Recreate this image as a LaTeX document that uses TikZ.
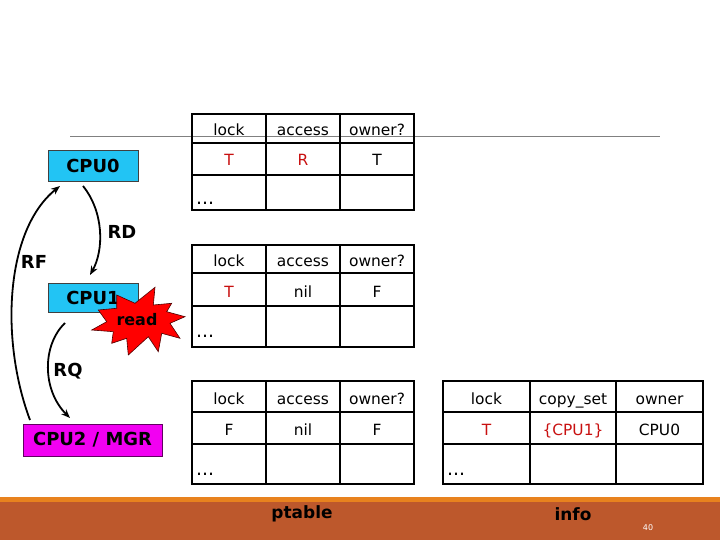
\documentclass[tikz,border=0pt]{standalone}
\usepackage{fontspec}
\setmainfont{DejaVu Sans}
\usetikzlibrary{arrows.meta}
\definecolor{cpublue}{HTML}{22C4F4}
\definecolor{mgrpink}{HTML}{F200F2}
\definecolor{tred}{HTML}{C81010}
\definecolor{barorange}{HTML}{E8821E}
\definecolor{barbrown}{HTML}{BD582C}
\tikzset{
  cell/.style={anchor=base,inner sep=0pt,font=\fontsize{15.5}{18}\selectfont},
  redcell/.style={cell,text=tred},
  dots/.style={anchor=base west,inner sep=0pt,font=\fontsize{19}{20}\selectfont},
  cpubox/.style={draw=black!75,line width=0.6bp,font=\fontsize{18}{20}\selectfont\bfseries,inner sep=0pt},
  lbl/.style={font=\fontsize{18}{20}\selectfont\bfseries,inner sep=0pt},
  conn/.style={line width=1.8bp,-{Stealth[length=9bp,width=7bp]}},
  tbl/.style={line width=1.7bp}
}
\begin{document}
\begin{tikzpicture}[x=1bp,y=-1bp]
\useasboundingbox (0,0) rectangle (720,540);
% title rule
\draw[gray,line width=0.8bp] (70,136) -- (660,136);
% footer
\fill[barbrown] (0,502) rectangle (720,540);
\fill[barorange] (0,497) rectangle (720,502);
\node[lbl,font=\fontsize{17}{19}\selectfont\bfseries] (ptable) at (302,514) {ptable};
\node[lbl,font=\fontsize{17}{19}\selectfont\bfseries] (info) at (573,514) {info};
\node[inner sep=0pt,text=white,font=\fontsize{8}{9}\selectfont] (pg) at (648,528) {40};

% table 1
\draw[tbl] (192,114) rectangle (414,210);
\draw[tbl] (192,143) -- (414,143) (192,175) -- (414,175)
  (266,114) -- (266,210) (340,114) -- (340,210);
\node[cell] (t1a) at (229,136) {lock};
\node[cell] (t1b) at (303,136) {access};
\node[cell] (t1c) at (377,136) {owner?};
\node[redcell] (t1d) at (229,166) {T};
\node[redcell] (t1e) at (303,166) {R};
\node[cell] (t1f) at (377,166) {T};
\node[dots] (t1g) at (196,205) {...};

% table 2
\draw[tbl] (192,245) rectangle (414,347);
\draw[tbl] (192,273) -- (414,273) (192,306) -- (414,306)
  (266,245) -- (266,347) (340,245) -- (340,347);
\node[cell] (t2a) at (229,267) {lock};
\node[cell] (t2b) at (303,267) {access};
\node[cell] (t2c) at (377,267) {owner?};
\node[redcell] (t2d) at (229,297) {T};
\node[cell] (t2e) at (303,297) {nil};
\node[cell] (t2f) at (377,297) {F};
\node[dots] (t2g) at (196,337) {...};

% table 3
\draw[tbl] (192,381) rectangle (414,484);
\draw[tbl] (192,412) -- (414,412) (192,444) -- (414,444)
  (266,381) -- (266,484) (340,381) -- (340,484);
\node[cell] (t3a) at (229,404) {lock};
\node[cell] (t3b) at (303,404) {access};
\node[cell] (t3c) at (377,404) {owner?};
\node[cell] (t3d) at (229,435) {F};
\node[cell] (t3e) at (303,435) {nil};
\node[cell] (t3f) at (377,435) {F};
\node[dots] (t3g) at (196,475) {...};

% table 4
\draw[tbl] (443,381) rectangle (703,484);
\draw[tbl] (443,412) -- (703,412) (443,444) -- (703,444)
  (530,381) -- (530,484) (616,381) -- (616,484);
\node[cell] (t4a) at (486.5,404) {lock};
\node[cell] (t4b) at (573,404) {copy\_set};
\node[cell] (t4c) at (659.5,404) {owner};
\node[redcell] (t4d) at (486.5,435) {T};
\node[redcell] (t4e) at (573,435) {\{CPU1\}};
\node[cell] (t4f) at (659.5,435) {CPU0};
\node[dots] (t4g) at (447,475) {...};

% CPU boxes
\node[cpubox,fill=cpublue,minimum width=90bp,minimum height=31bp] (cpu0) at (93,165.5) {CPU0};
\node[cpubox,fill=cpublue,minimum width=90bp,minimum height=29bp] (cpu1) at (93,297.5) {CPU1};
\node[cpubox,fill=mgrpink,draw=black!60!mgrpink,minimum width=139bp,minimum height=32bp] (cpu2) at (92.5,440) {CPU2 / MGR};

% read starburst
\draw[draw=black!70!red,fill=red,line width=0.6bp,line join=miter]
  (116.7,295) -- (135,303.3) -- (155,287.3) -- (153.3,305) -- (171.7,303.3)
  -- (166.7,311.7) -- (185,316.7) -- (170,323.3) -- (180,338.3) -- (161.7,333.3)
  -- (158.3,351.7) -- (148.3,336.7) -- (128.3,355) -- (126.7,338.3) -- (111.7,343.3)
  -- (113.3,331.7) -- (91.7,330) -- (106.7,321.7) -- (98.3,310) -- (116.7,308.3) -- cycle;
\node[inner sep=0pt,font=\fontsize{16}{18}\selectfont\bfseries] (read) at (137,320) {read};

% connectors
\coordinate (rdS) at (83,186);
\coordinate (rdE) at (90,275);
\coordinate (rfS) at (30,420);
\coordinate (rfE) at (60,186);
\coordinate (rqS) at (65,323);
\coordinate (rqE) at (70,418);
\draw[conn] (rdS) .. controls (104,212) and (104,250) .. (rdE);
\draw[conn] (rfS) .. controls (0,340) and (5,230) .. (rfE);
\draw[conn] (rqS) .. controls (42,345) and (42,390) .. (rqE);
\node[lbl] (rd) at (122,232) {RD};
\node[lbl] (rf) at (34,262) {RF};
\node[lbl] (rq) at (68,371) {RQ};
\end{tikzpicture}
\end{document}
